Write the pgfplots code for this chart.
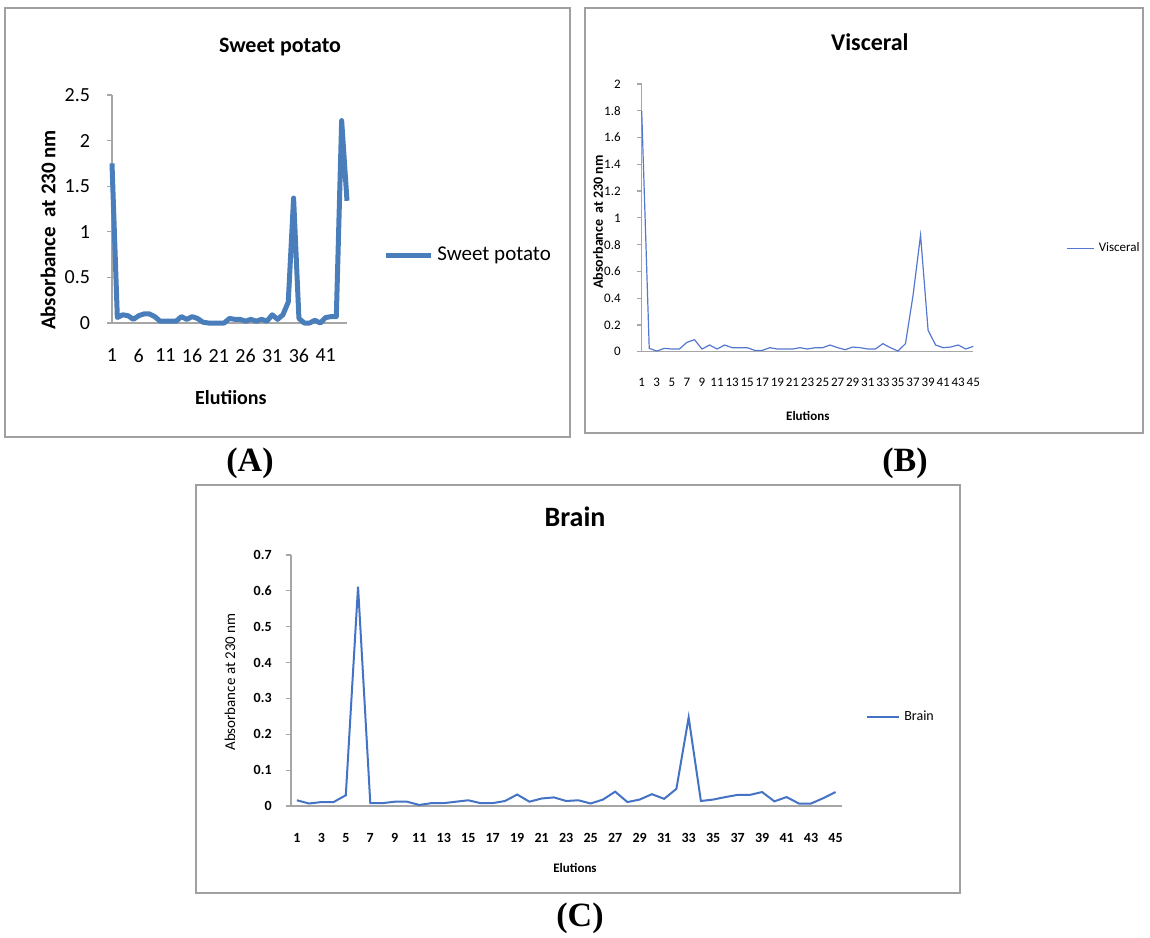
\documentclass[border=0pt]{standalone}
\usepackage{fontspec}
\setmainfont{Carlito}
\newfontfamily\timesfont{Liberation Serif}
\usepackage{pgfplots}
\pgfplotsset{compat=1.18}

\definecolor{xlblueA}{HTML}{4A7EBB}
\definecolor{xlblueB}{HTML}{5478D0}
\definecolor{xlblueC}{HTML}{4472C4}
\definecolor{axgray}{HTML}{A6A6A6}
\definecolor{framegray}{HTML}{A0A0A0}

\pgfplotsset{
  xlstyle/.style={
    scale only axis, clip=false,
    axis lines=left,
    axis line style={-, axgray, line width=0.8pt},
    xtick style={draw=none},
    ytick style={axgray, line width=0.6pt},
    tick align=outside, major tick length=2.5pt,
    /pgf/number format/assume math mode=true,
    legend style={draw=none, fill=none, anchor=west, inner sep=0pt},
    legend cell align=left,
    every axis title/.style={anchor=center},
  }
}

\begin{document}
\begin{tikzpicture}
\path[use as bounding box] (0pt,0pt) rectangle (575pt,-468.5pt);

% panel frames
\draw[framegray, line width=0.7pt] (2.5pt,-4pt) rectangle (285pt,-218.5pt);
\draw[framegray, line width=0.7pt] (292.5pt,-4pt) rectangle (571.5pt,-216.5pt);
\draw[framegray, line width=0.7pt] (98pt,-242.5pt) rectangle (480pt,-446.5pt);

% (A) sweet potato
\begin{axis}[xlstyle,
  at={(56pt,-161.5pt)}, anchor=south west,
  width=117.5pt, height=114pt,
  xmin=1, xmax=45, ymin=0, ymax=2.5,
  xtick={1,6,...,41},
  ytick={0,0.5,1,1.5,2,2.5},
  ticklabel style={font=\fontsize{10}{12}\selectfont},
  xticklabel style={yshift=-7pt},
  yticklabel style={xshift=-5pt},
  title={Sweet potato},
  title style={at={(axis description cs:0.715,1.21)}, font=\fontsize{11}{13}\selectfont\bfseries},
  xlabel={Elutiions},
  xlabel style={at={(axis description cs:0.506,-0.325)}, anchor=center, font=\fontsize{10}{12}\selectfont\bfseries},
  ylabel={Absorbance\ \ at 230 nm},
  ylabel style={at={(axis description cs:-0.272,0.408)}, anchor=center, font=\fontsize{10.5}{12}\selectfont\bfseries},
  legend style={at={(1.153,0.298)}, font=\fontsize{10.5}{12}\selectfont},
  legend image code/.code={\draw[#1] (0pt,0pt) -- (22.5pt,0pt);},
]
\addplot[xlblueA, line width=2.5pt, line join=round] coordinates {
(1,1.75) (2,0.06) (3,0.09) (4,0.08) (5,0.04) (6,0.08) (7,0.10) (8,0.10) (9,0.07) (10,0.02)
(11,0.02) (12,0.02) (13,0.02) (14,0.07) (15,0.04) (16,0.07) (17,0.05) (18,0.01) (19,0.00) (20,0.00)
(21,0.00) (22,0.00) (23,0.05) (24,0.04) (25,0.04) (26,0.02) (27,0.04) (28,0.02) (29,0.04) (30,0.02)
(31,0.09) (32,0.04) (33,0.09) (34,0.23) (35,1.37) (36,0.05) (37,0.00) (38,0.00) (39,0.03) (40,0.00)
(41,0.06) (42,0.07) (43,0.07) (44,2.22) (45,1.34)
};
\addlegendentry{Sweet potato}
\end{axis}

% (B) visceral
\begin{axis}[xlstyle,
  at={(320.85pt,-175.85pt)}, anchor=south west,
  width=165.8pt, height=133.85pt,
  xmin=1, xmax=45, ymin=0, ymax=2,
  xtick={1,3,...,45},
  ytick={0,0.2,0.4,0.6,0.8,1,1.2,1.4,1.6,1.8,2},
  axis line style={-, axgray, line width=0.6pt},
  ticklabel style={font=\fontsize{6.5}{8}\selectfont},
  xticklabel style={yshift=-7pt},
  yticklabel style={xshift=-4.5pt},
  title={Visceral},
  title style={at={(axis description cs:0.688,1.157)}, font=\fontsize{12}{14}\selectfont\bfseries},
  xlabel={Elutions},
  xlabel style={at={(axis description cs:0.501,-0.24)}, anchor=center, font=\fontsize{6.5}{8}\selectfont\bfseries},
  ylabel={Absorbance\ \ at 230 nm},
  ylabel style={at={(axis description cs:-0.132,0.485)}, anchor=center, font=\fontsize{7}{8}\selectfont\bfseries},
  legend style={at={(1.28,0.387)}, font=\fontsize{6.5}{8}\selectfont},
  legend image code/.code={\draw[#1] (0pt,0pt) -- (13.5pt,0pt);},
]
\addplot[xlblueB, line width=0.6pt] coordinates {
(1,1.80) (2,0.025) (3,0.005) (4,0.025) (5,0.02) (6,0.02) (7,0.07) (8,0.09) (9,0.02) (10,0.05)
(11,0.02) (12,0.05) (13,0.03) (14,0.03) (15,0.03) (16,0.01) (17,0.01) (18,0.03) (19,0.02) (20,0.02)
(21,0.02) (22,0.03) (23,0.02) (24,0.03) (25,0.03) (26,0.05) (27,0.03) (28,0.015) (29,0.035) (30,0.03)
(31,0.02) (32,0.02) (33,0.06) (34,0.03) (35,0.005) (36,0.06) (37,0.42) (38,0.87) (39,0.16) (40,0.05)
(41,0.03) (42,0.035) (43,0.05) (44,0.02) (45,0.04)
};
\addlegendentry{Visceral}
\end{axis}

% (C) brain
\begin{axis}[xlstyle,
  at={(145.35pt,-403pt)}, anchor=south west,
  width=275.5pt, height=125.5pt,
  xmin=0.5, xmax=45.5, ymin=0, ymax=0.7,
  xtick={1,3,...,45},
  ytick={0,0.1,0.2,0.3,0.4,0.5,0.6,0.7},
  axis line style={-, axgray, line width=1pt},
  ticklabel style={font=\fontsize{7}{8}\selectfont\bfseries},
  xticklabel style={yshift=-7.5pt},
  yticklabel style={xshift=-3.5pt},
  title={Brain},
  title style={at={(axis description cs:0.516,1.151)}, font=\fontsize{14}{16}\selectfont\bfseries},
  xlabel={Elutions},
  xlabel style={at={(axis description cs:0.516,-0.247)}, anchor=center, font=\fontsize{6.5}{8}\selectfont\bfseries},
  ylabel={Absorbance at 230 nm},
  ylabel style={at={(axis description cs:-0.11,0.494)}, anchor=center, font=\fontsize{7.5}{9}\selectfont},
  legend style={at={(1.044,0.355)}, font=\fontsize{7}{8}\selectfont},
  legend image code/.code={\draw[#1] (0pt,0pt) -- (16pt,0pt);},
]
\addplot[xlblueC, line width=1pt] coordinates {
(1,0.016) (2,0.007) (3,0.011) (4,0.011) (5,0.030) (6,0.612) (7,0.008) (8,0.008) (9,0.012) (10,0.012)
(11,0.003) (12,0.008) (13,0.008) (14,0.012) (15,0.016) (16,0.008) (17,0.008) (18,0.014) (19,0.032) (20,0.012)
(21,0.021) (22,0.024) (23,0.014) (24,0.016) (25,0.007) (26,0.018) (27,0.040) (28,0.011) (29,0.018) (30,0.033)
(31,0.020) (32,0.048) (33,0.247) (34,0.014) (35,0.018) (36,0.025) (37,0.031) (38,0.031) (39,0.039) (40,0.013)
(41,0.025) (42,0.007) (43,0.007) (44,0.022) (45,0.039)
};
\addlegendentry{Brain}
\end{axis}

% panel labels
\node[font=\timesfont\bfseries\fontsize{17}{19}\selectfont] at (125pt,-231.5pt) {(A)};
\node[font=\timesfont\bfseries\fontsize{17}{19}\selectfont] at (452.5pt,-231.5pt) {(B)};
\node[font=\timesfont\bfseries\fontsize{17}{19}\selectfont] at (290pt,-459pt) {(C)};
\end{tikzpicture}
\end{document}
